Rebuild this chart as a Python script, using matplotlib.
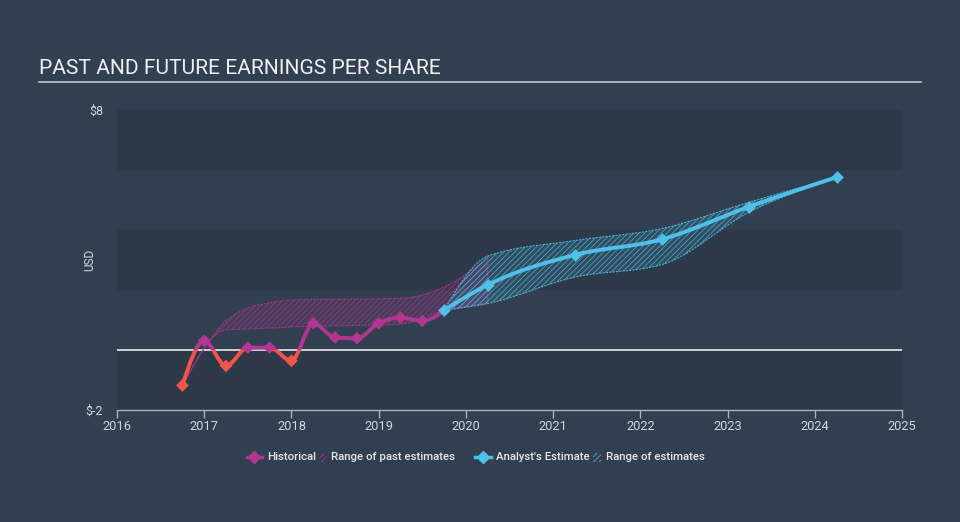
"""Past and future earnings per share chart (dark theme)."""

import matplotlib

matplotlib.use("Agg")

import matplotlib.pyplot as plt
import numpy as np
from matplotlib.lines import Line2D
from matplotlib.patches import PathPatch, Rectangle
from matplotlib.path import Path

# ---- data -----------------------------------------------------------------
hist_x = [2016.75, 2017.0, 2017.25, 2017.5, 2017.75, 2018.0, 2018.25,
          2018.5, 2018.75, 2019.0, 2019.25, 2019.5, 2019.75]
hist_eps = [-1.18, 0.31, -0.53, 0.08, 0.08, -0.36, 0.89,
            0.42, 0.39, 0.89, 1.08, 0.97, 1.31]

past_x = [2016.75, 2017.25, 2017.5, 2017.75, 2018.0, 2018.75, 2019.25, 2019.75, 2020.25]
past_low = [-1.18, 0.67, 0.70, 0.73, 0.77, 0.82, 0.86, 1.31, 1.55]
past_high = [-1.18, 0.97, 1.40, 1.57, 1.67, 1.70, 1.72, 2.10, 3.05]

est_x = [2019.75, 2020.25, 2021.25, 2022.25, 2023.25, 2024.25]
est_eps = [1.33, 2.17, 3.17, 3.69, 4.78, 5.76]
est_low = [1.33, 1.55, 2.43, 2.85, 4.60, 5.76]
est_high = [1.33, 3.13, 3.65, 4.05, 4.93, 5.76]

year_ticks = list(range(2016, 2026))
y_ticks = [-2, 8]
y_tick_labels = ["$-2", "$8"]

# ---- style ----------------------------------------------------------------
BG = "#323f50"
BAND = "#2d3948"
TEXT = "#d2d5da"
MAGENTA = "#b1368f"
RED = "#f4534a"
CYAN = "#4fc1e8"

plt.rcParams["font.family"] = ["Roboto", "DejaVu Sans"]
plt.rcParams["hatch.linewidth"] = 0.5


def monotone_path(xs, ys):
    """Cubic bezier vertices of a monotone-x curve through the points."""
    xs = np.asarray(xs, float)
    ys = np.asarray(ys, float)
    n = len(xs)
    h = np.diff(xs)
    s = np.diff(ys) / h
    t = np.zeros(n)
    for i in range(1, n - 1):
        p = (s[i - 1] * h[i] + s[i] * h[i - 1]) / (h[i - 1] + h[i])
        sg = (1 if s[i - 1] >= 0 else -1) + (1 if s[i] >= 0 else -1)
        t[i] = sg * min(abs(s[i - 1]), abs(s[i]), 0.5 * abs(p))
    if n > 2:
        t[0] = (3 * s[0] - t[1]) / 2
        t[-1] = (3 * s[-1] - t[-2]) / 2
    else:
        t[:] = s[0]
    verts = [(xs[0], ys[0])]
    for i in range(n - 1):
        dx = h[i] / 3
        verts += [(xs[i] + dx, ys[i] + dx * t[i]),
                  (xs[i + 1] - dx, ys[i + 1] - dx * t[i + 1]),
                  (xs[i + 1], ys[i + 1])]
    return verts


def line_path(xs, ys):
    verts = monotone_path(xs, ys)
    codes = [Path.MOVETO] + [Path.CURVE4] * (len(verts) - 1)
    return Path(verts, codes)


def band_path(xs, low, high):
    up = monotone_path(xs, high)
    lo = monotone_path(xs, low)[::-1]
    verts = up + lo + [up[0]]
    codes = ([Path.MOVETO] + [Path.CURVE4] * (len(up) - 1)
             + [Path.LINETO] + [Path.CURVE4] * (len(lo) - 1) + [Path.CLOSEPOLY])
    return Path(verts, codes)


def draw_band(ax, xs, low, high, color, alpha):
    path = band_path(xs, low, high)
    ax.add_patch(PathPatch(path, facecolor=color, alpha=alpha, lw=0, zorder=2))
    ax.add_patch(PathPatch(path, facecolor="none", edgecolor=color, hatch="//////",
                           lw=0.8, ls=(0, (2, 1)), alpha=0.85, zorder=2))


fig = plt.figure(figsize=(9.6, 5.22), dpi=100, facecolor=BG)

# title and rule
fig.text(39 / 960, 1 - 69 / 522, "PAST AND FUTURE EARNINGS PER SHARE",
         color="#eeeff1", fontsize=15.1, va="center", ha="left")
fig.add_artist(Line2D([39 / 960, 921 / 960], [1 - 81.5 / 522] * 2,
                      color="#b4b9c0", lw=1.3, transform=fig.transFigure))

ax = fig.add_axes([117 / 960, 1 - 410 / 522, 785 / 960, 300 / 522])
ax.set_facecolor(BG)
ax.set_xlim(2016, 2025)
ax.set_ylim(-2, 8)

for lo in (-2, 2, 6):
    ax.axhspan(lo, lo + 2, color=BAND, lw=0, zorder=0)
ax.axhline(0, color="#e8eaed", lw=1.2, zorder=1)

# ranges
draw_band(ax, past_x, past_low, past_high, MAGENTA, 0.14)
draw_band(ax, est_x, est_low, est_high, CYAN, 0.14)

# historical line coloured by sign
hist_line = line_path(hist_x, hist_eps)
for color, clip_y, clip_h in ((MAGENTA, 0, 10), (RED, -10, 10)):
    patch = PathPatch(hist_line, facecolor="none", edgecolor=color, lw=2.8,
                      capstyle="round", joinstyle="round", zorder=4)
    ax.add_patch(patch)
    patch.set_clip_path(Rectangle((2015, clip_y), 11, clip_h, transform=ax.transData))
hist_colors = [RED if v < 0 else MAGENTA for v in hist_eps]
ax.scatter(hist_x, hist_eps, marker="D", s=42, c=hist_colors, lw=0, zorder=5)

# analyst estimate
ax.add_patch(PathPatch(line_path(est_x, est_eps), facecolor="none", edgecolor=CYAN,
                       lw=2.8, capstyle="round", joinstyle="round", zorder=4))
ax.scatter(est_x, est_eps, marker="D", s=42, c=CYAN, lw=0, zorder=5)

# axes styling
for side in ("top", "right", "left"):
    ax.spines[side].set_visible(False)
ax.spines["bottom"].set_color("#aeb3ba")
ax.spines["bottom"].set_linewidth(1)
ax.set_xticks(year_ticks)
ax.set_xticklabels([str(y) for y in year_ticks])
ax.tick_params(axis="x", colors="#aeb3ba", labelcolor=TEXT, length=6, width=1,
               pad=1.5, labelsize=9.3)
ax.set_yticks(y_ticks)
ax.set_yticklabels(y_tick_labels)
ax.tick_params(axis="y", length=0, pad=10, labelcolor=TEXT, labelsize=9)
ax.set_ylabel("USD", color=TEXT, fontsize=8.5, labelpad=6)
ax.yaxis.set_label_coords(-0.027, 0.5)

# legend
ly = 1 - 457 / 522


def px(x):
    return x / 960


fig.add_artist(Line2D([px(247), px(262)], [ly, ly], color=MAGENTA, lw=2.5,
                      transform=fig.transFigure))
fig.add_artist(Line2D([px(254.5)], [ly], color=MAGENTA, marker="D", ms=6, lw=0,
                      transform=fig.transFigure))
fig.add_artist(Line2D([px(475), px(491)], [ly, ly], color=CYAN, lw=2.5,
                      transform=fig.transFigure))
fig.add_artist(Line2D([px(483)], [ly], color=CYAN, marker="D", ms=6, lw=0,
                      transform=fig.transFigure))
for x0, color in ((319, MAGENTA), (593, CYAN)):
    fig.add_artist(Rectangle((px(x0), ly - 4.5 / 522), px(8), 9 / 522, facecolor="none",
                             edgecolor=color, hatch="//////", lw=0,
                             transform=fig.transFigure))
for x0, label in ((267, "Historical"), (331, "Range of past estimates"),
                  (496, "Analyst's Estimate"), (606, "Range of estimates")):
    fig.text(px(x0), ly, label, color="#e6e8eb", fontsize=8.2, va="center", ha="left",
             fontweight="medium")

fig.savefig("out.png", dpi=100, facecolor=BG)
